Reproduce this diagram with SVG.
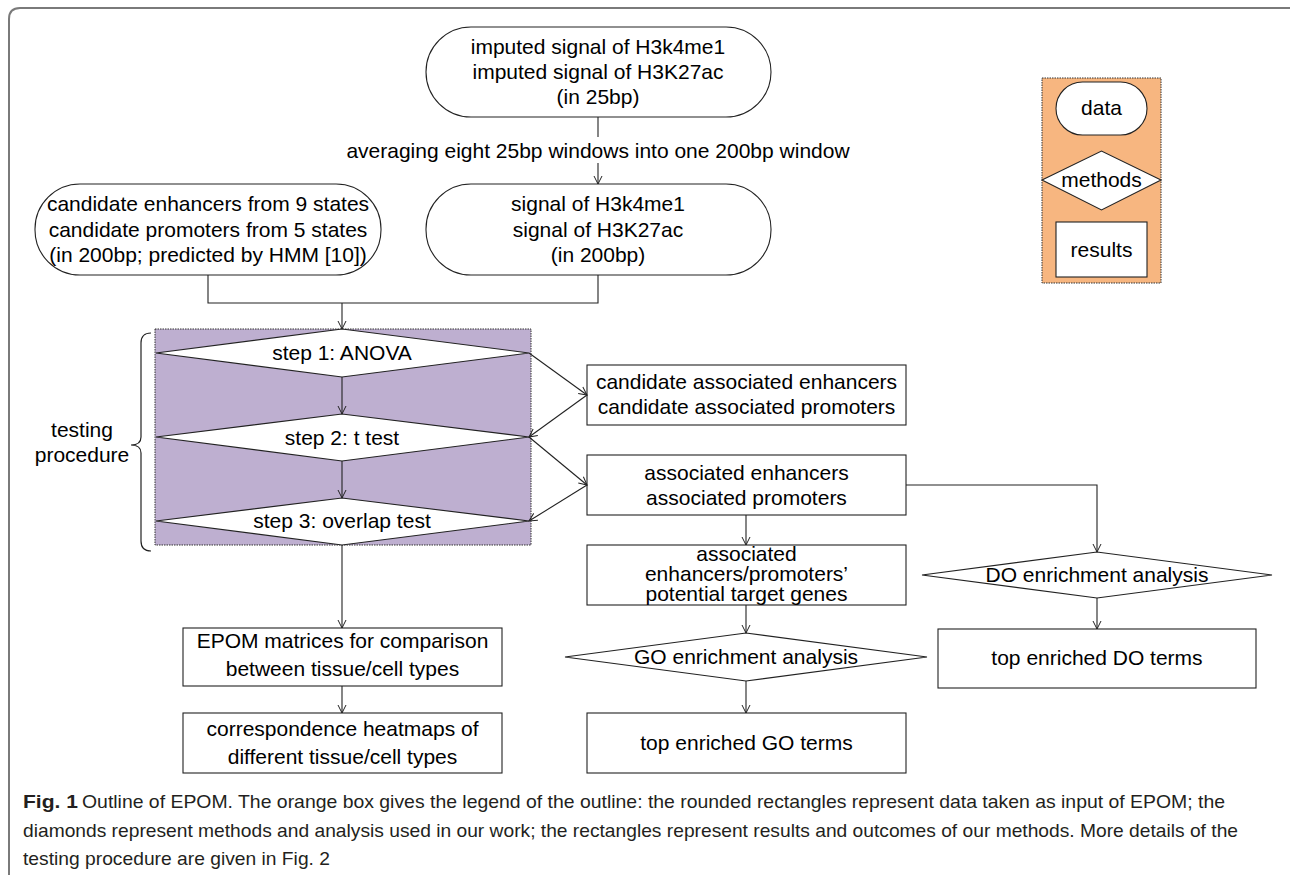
<svg xmlns="http://www.w3.org/2000/svg" width="1290" height="875" viewBox="0 0 1290 875">
<defs>
<style>
.t{font-family:"Liberation Sans",Arial,sans-serif;font-size:21px;fill:#000;text-anchor:middle}
.n{fill:#fff;stroke:#222;stroke-width:1.1}
.c{fill:none;stroke:#222;stroke-width:1.1}
.cap{font-family:"Liberation Sans",Arial,sans-serif;font-size:19px;fill:#231f20}
</style>
<marker id="arr" viewBox="0 0 10 10" refX="9" refY="5" markerWidth="10" markerHeight="10" markerUnits="userSpaceOnUse" orient="auto">
<path d="M1,1 L9,5 L1,9" fill="none" stroke="#222" stroke-width="1"/>
</marker>
</defs>
<rect width="1290" height="875" fill="#fff"/>
<path d="M9,880 L9,19 Q9,8 20,8 L1295,8" fill="none" stroke="#7a7a7a" stroke-width="2"/>

<g id="legend">
<rect x="1042" y="78" width="119" height="205" fill="#F7B680" stroke="#333" stroke-width="1" stroke-dasharray="1.5 1"/>
<rect class="n" x="1056" y="82" width="91" height="53" rx="26.5"/>
<text class="t" x="1101.5" y="115">data</text>
<polygon class="n" points="1042,180 1101.5,151 1161,180 1101.5,210"/>
<text class="t" x="1101.5" y="187">methods</text>
<rect class="n" x="1056" y="222" width="91" height="55"/>
<text class="t" x="1101.5" y="257">results</text>
</g>

<g id="imputed">
<rect class="n" x="426" y="27" width="345" height="90" rx="45"/>
<text class="t" x="598" y="54">imputed signal of H3k4me1</text>
<text class="t" x="598" y="79">imputed signal of H3K27ac</text>
<text class="t" x="598" y="104">(in 25bp)</text>
</g>

<g id="averaging-label">
<text class="t" x="598" y="158">averaging eight 25bp windows into one 200bp window</text>
</g>

<g id="candidates">
<rect class="n" x="35" y="184" width="346" height="91" rx="45"/>
<text class="t" x="208" y="211">candidate enhancers from 9 states</text>
<text class="t" x="208" y="237">candidate promoters from 5 states</text>
<text class="t" x="208" y="262">(in 200bp; predicted by HMM [10])</text>
</g>

<g id="signal">
<rect class="n" x="426" y="184" width="345" height="91" rx="45"/>
<text class="t" x="598" y="211">signal of H3k4me1</text>
<text class="t" x="598" y="237">signal of H3K27ac</text>
<text class="t" x="598" y="262">(in 200bp)</text>
</g>

<g id="testing-procedure">
<rect x="155" y="329" width="376" height="216" fill="#BEAFD0" stroke="#333" stroke-width="1" stroke-dasharray="1.5 1"/>
<path d="M151,333 Q141,333 141,343 L141,437 Q141,445 131,445 Q141,445 141,453 L141,541 Q141,551 151,551" fill="none" stroke="#222" stroke-width="1.2"/>
<text class="t" x="82" y="437">testing</text>
<text class="t" x="82" y="462">procedure</text>
</g>

<g id="step1">
<polygon class="n" points="156,353 342,329 529,353 342,377"/>
<text class="t" x="342" y="360">step 1: ANOVA</text>
</g>
<g id="step2">
<polygon class="n" points="156,437 342,414 529,437 342,461"/>
<text class="t" x="342" y="445">step 2: t test</text>
</g>
<g id="step3">
<polygon class="n" points="156,521 342,498 529,521 342,545"/>
<text class="t" x="342" y="528">step 3: overlap test</text>
</g>

<g id="cand-assoc">
<rect class="n" x="587" y="365" width="319" height="60"/>
<text class="t" x="746.5" y="389">candidate associated enhancers</text>
<text class="t" x="746.5" y="414">candidate associated promoters</text>
</g>

<g id="assoc">
<rect class="n" x="587" y="455" width="319" height="60"/>
<text class="t" x="746.5" y="480">associated enhancers</text>
<text class="t" x="746.5" y="505">associated promoters</text>
</g>

<g id="targets">
<rect class="n" x="587" y="545" width="319" height="60"/>
<text class="t" x="746.5" y="561">associated</text>
<text class="t" x="746.5" y="581">enhancers/promoters’</text>
<text class="t" x="746.5" y="601">potential target genes</text>
</g>

<g id="go-analysis">
<polygon class="n" points="565,657 746,633 927,657 746,681"/>
<text class="t" x="746" y="664">GO enrichment analysis</text>
</g>

<g id="go-terms">
<rect class="n" x="587" y="713" width="319" height="60"/>
<text class="t" x="746.5" y="750">top enriched GO terms</text>
</g>

<g id="do-analysis">
<polygon class="n" points="922,575 1097,552 1272,575 1097,598"/>
<text class="t" x="1097" y="582">DO enrichment analysis</text>
</g>

<g id="do-terms">
<rect class="n" x="938" y="629" width="318" height="59"/>
<text class="t" x="1097" y="665">top enriched DO terms</text>
</g>

<g id="epom">
<rect class="n" x="183" y="628" width="319" height="58"/>
<text class="t" x="342.5" y="648">EPOM matrices for comparison</text>
<text class="t" x="342.5" y="676">between tissue/cell types</text>
</g>

<g id="heatmaps">
<rect class="n" x="183" y="713" width="319" height="60"/>
<text class="t" x="342.5" y="736">correspondence heatmaps of</text>
<text class="t" x="342.5" y="764">different tissue/cell types</text>
</g>

<g id="connectors">
<line class="c" x1="598" y1="117" x2="598" y2="137"/>
<line class="c" x1="598" y1="163" x2="598" y2="184" marker-end="url(#arr)"/>
<polyline class="c" points="208,275 208,303 598,303 598,275"/>
<line class="c" x1="342" y1="303" x2="342" y2="329" marker-end="url(#arr)"/>
<line class="c" x1="342" y1="377" x2="342" y2="414" marker-end="url(#arr)"/>
<line class="c" x1="342" y1="461" x2="342" y2="498" marker-end="url(#arr)"/>
<line class="c" x1="529" y1="353" x2="587" y2="395" marker-end="url(#arr)"/>
<line class="c" x1="587" y1="395" x2="529" y2="437" marker-end="url(#arr)"/>
<line class="c" x1="529" y1="437" x2="587" y2="485" marker-end="url(#arr)"/>
<line class="c" x1="587" y1="485" x2="529" y2="521" marker-end="url(#arr)"/>
<polyline class="c" points="906,485 1097,485 1097,552" marker-end="url(#arr)"/>
<line class="c" x1="746" y1="515" x2="746" y2="545" marker-end="url(#arr)"/>
<line class="c" x1="746" y1="605" x2="746" y2="633" marker-end="url(#arr)"/>
<line class="c" x1="746" y1="681" x2="746" y2="713" marker-end="url(#arr)"/>
<line class="c" x1="1097" y1="598" x2="1097" y2="629" marker-end="url(#arr)"/>
<line class="c" x1="342" y1="545" x2="342" y2="628" marker-end="url(#arr)"/>
<line class="c" x1="342" y1="686" x2="342" y2="713" marker-end="url(#arr)"/>
</g>

<g id="caption">
<text class="cap" x="23" y="808" font-weight="bold" textLength="55" lengthAdjust="spacingAndGlyphs">Fig. 1</text>
<text class="cap" x="82" y="808" textLength="1143" lengthAdjust="spacingAndGlyphs">Outline of EPOM. The orange box gives the legend of the outline: the rounded rectangles represent data taken as input of EPOM; the</text>
<text class="cap" x="23" y="837" textLength="1215" lengthAdjust="spacingAndGlyphs">diamonds represent methods and analysis used in our work; the rectangles represent results and outcomes of our methods. More details of the</text>
<text class="cap" x="23" y="865" textLength="307" lengthAdjust="spacingAndGlyphs">testing procedure are given in Fig. 2</text>
</g>
</svg>
